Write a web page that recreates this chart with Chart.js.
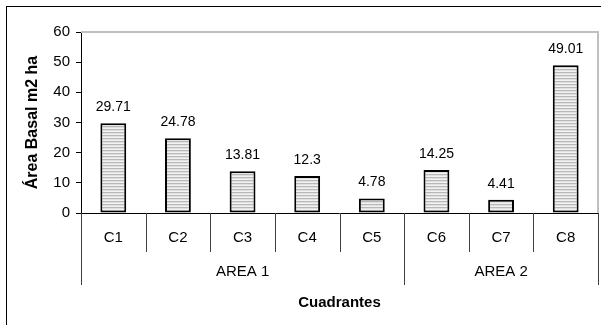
<!DOCTYPE html>
<html>
<head>
<meta charset="utf-8">
<script src="https://cdn.jsdelivr.net/npm/chart.js@4/dist/chart.umd.min.js"></script>
<style>
  html, body { margin: 0; padding: 0; background: #ffffff; }
  canvas { display: block; }
</style>
</head>
<body>
<canvas id="chart" width="601" height="325"></canvas>
<script>
// Basal area per quadrant, grouped by sampling area
const categories = ['C1', 'C2', 'C3', 'C4', 'C5', 'C6', 'C7', 'C8'];
const groupLabels = ['AREA 1', 'AREA 2'];
const groupSizes = [5, 3];
const basalArea = [29.71, 24.78, 13.81, 12.3, 4.78, 14.25, 4.41, 49.01];
const yMin = 0, yMax = 60, yStep = 10;
const yTitle = 'Área Basal m2 ha';
const xTitle = 'Cuadrantes';

const FONT = '"Liberation Sans", Arial, sans-serif';

// Horizontal-stripe hatch used to fill the bars
function stripePattern() {
  const c = document.createElement('canvas');
  c.width = 4; c.height = 3;
  const g = c.getContext('2d');
  g.fillStyle = '#f2f2f2'; g.fillRect(0, 0, 4, 3);
  g.fillStyle = '#e0e0e0'; g.fillRect(0, 1, 4, 1);
  g.fillStyle = '#b8b8b8'; g.fillRect(0, 0, 4, 1);
  return g.createPattern(c, 'repeat');
}

// Frame, plot border, value labels and the two-level category axis
const decorations = {
  id: 'decorations',
  beforeDraw(chart) {
    const ctx = chart.ctx;
    ctx.save();
    ctx.fillStyle = '#ffffff';
    ctx.fillRect(0, 0, chart.width, chart.height);
    ctx.strokeStyle = '#000000';
    ctx.lineWidth = 1;
    ctx.strokeRect(6.5, 6.5, chart.width + 10, chart.height + 10);
    ctx.restore();
  },
  beforeDatasetsDraw(chart) {
    const { ctx, chartArea: a } = chart;
    ctx.save();
    ctx.strokeStyle = '#c0c0c0';
    ctx.lineWidth = 2;
    ctx.beginPath();
    ctx.moveTo(a.left, a.top);
    ctx.lineTo(a.right, a.top);
    ctx.lineTo(a.right, a.bottom);
    ctx.stroke();
    ctx.restore();
  },
  afterDatasetsDraw(chart) {
    const { ctx, chartArea: a } = chart;
    const x = chart.scales.x;
    const meta = chart.getDatasetMeta(0);
    ctx.save();

    // value labels above the bars
    ctx.fillStyle = '#000000';
    ctx.font = '14px ' + FONT;
    ctx.textAlign = 'center';
    ctx.textBaseline = 'bottom';
    meta.data.forEach((bar, i) => {
      ctx.fillText(String(basalArea[i]), bar.x, bar.y - 9);
    });

    // category axis line
    ctx.strokeStyle = '#000000';
    ctx.lineWidth = 1;
    ctx.beginPath();
    ctx.moveTo(a.left, Math.round(a.bottom) + 0.5);
    ctx.lineTo(a.right, Math.round(a.bottom) + 0.5);
    ctx.stroke();

    // boundaries between categories
    const bounds = [];
    for (let i = 0; i <= categories.length; i++) {
      let px;
      if (i === 0) px = a.left;
      else if (i === categories.length) px = a.right;
      else px = (x.getPixelForValue(i - 1) + x.getPixelForValue(i)) / 2;
      bounds.push(px);
    }
    const groupEdges = [0];
    groupSizes.forEach(n => groupEdges.push(groupEdges[groupEdges.length - 1] + n));

    const rowCat = a.bottom + 39;
    const rowGroup = a.bottom + 72;
    ctx.strokeStyle = '#404040';
    bounds.forEach((px, i) => {
      const y2 = groupEdges.includes(i) ? rowGroup : rowCat;
      const xx = Math.round(px) + 0.5;
      ctx.beginPath();
      ctx.moveTo(xx, a.bottom);
      ctx.lineTo(xx, y2);
      ctx.stroke();
    });

    // category labels
    ctx.textBaseline = 'middle';
    ctx.font = '15px ' + FONT;
    categories.forEach((c, i) => {
      ctx.fillText(c, x.getPixelForValue(i), a.bottom + 25);
    });

    // group labels
    groupLabels.forEach((g, k) => {
      const cx = (bounds[groupEdges[k]] + bounds[groupEdges[k + 1]]) / 2;
      ctx.fillText(g, cx, a.bottom + 59);
    });

    // axis title
    ctx.font = 'bold 15px ' + FONT;
    ctx.fillText(xTitle, (a.left + a.right) / 2, a.bottom + 90);
    ctx.restore();
  }
};

new Chart(document.getElementById('chart'), {
  type: 'bar',
  data: {
    labels: categories,
    datasets: [{
      data: basalArea,
      backgroundColor: stripePattern(),
      borderColor: '#000000',
      borderWidth: 2,
      borderSkipped: false,
      barPercentage: 0.4,
      categoryPercentage: 1.0
    }]
  },
  options: {
    responsive: false,
    animation: false,
    devicePixelRatio: 1,
    layout: { padding: { top: 32, right: 3, bottom: 112, left: 0 } },
    plugins: {
      legend: { display: false },
      tooltip: { enabled: false }
    },
    scales: {
      x: { display: false, offset: true },
      y: {
        min: yMin,
        max: yMax,
        afterFit(scale) { scale.width = 81; },
        ticks: {
          stepSize: yStep,
          color: '#000000',
          padding: 6,
          font: { family: FONT, size: 15 }
        },
        grid: {
          drawOnChartArea: false,
          drawTicks: true,
          tickLength: 5,
          color: '#000000'
        },
        border: { display: true, color: '#000000', width: 1 },
        title: {
          display: true,
          text: yTitle,
          color: '#000000',
          padding: { top: 23, bottom: 0 },
          font: { family: FONT, size: 16, weight: 'bold' }
        }
      }
    }
  },
  plugins: [decorations]
});
</script>
</body>
</html>
